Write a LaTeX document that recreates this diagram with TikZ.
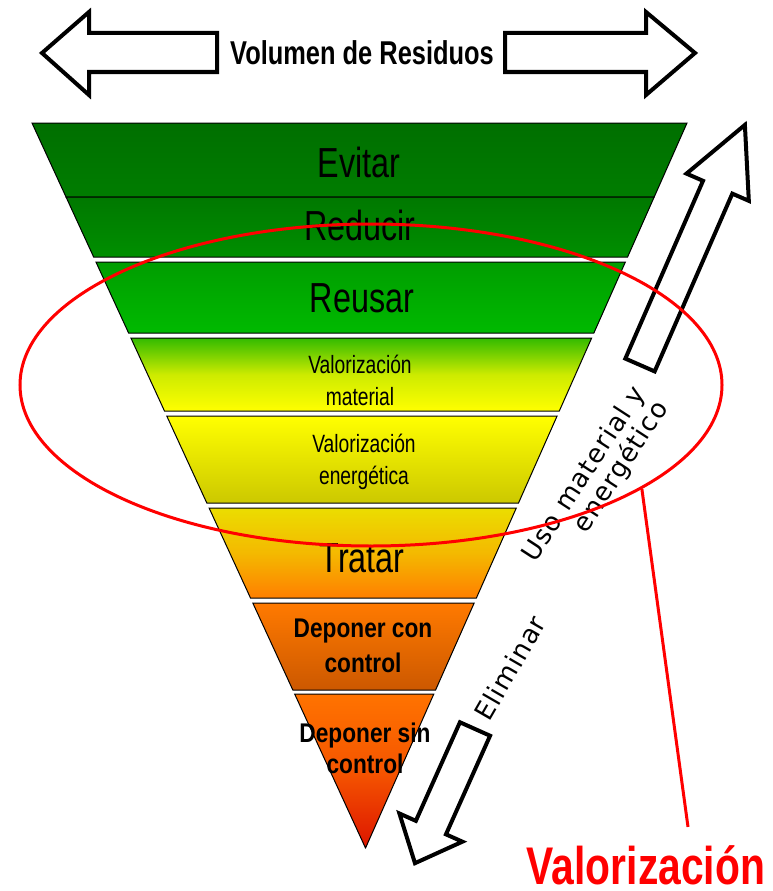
\documentclass[tikz,border=0pt]{standalone}
\usepackage{fontspec}
\setmainfont{Liberation Sans}
\newfontfamily\narrowfont[FakeStretch=0.77]{Liberation Sans}
\newfontfamily\depfont[FakeStretch=0.84]{Liberation Sans}
\newfontfamily\spacedfont[LetterSpace=5]{DejaVu Sans}
\usetikzlibrary{shapes.geometric, positioning}
\usepackage{xcolor}
\definecolor{ValRed}{RGB}{255,0,0}

% one level of the inverted pyramid: top y, bottom y, shading
\newcommand{\band}[3]{%
  \pgfmathsetmacro\bandla{32+0.46*(#1-123)}%
  \pgfmathsetmacro\bandra{687-0.4434*(#1-123)}%
  \pgfmathsetmacro\bandlb{32+0.46*(#2-123)}%
  \pgfmathsetmacro\bandrb{687-0.4434*(#2-123)}%
  \shadedraw[level, #3] (\bandla,#1) -- (\bandra,#1) -- (\bandrb,#2) -- (\bandlb,#2) -- cycle;}

\begin{document}
\begin{tikzpicture}[x=1pt, y=-1pt,
    level/.style={draw=black, line width=1pt},
    hollow/.style={draw=black, fill=white, line width=4pt, line join=miter},
    lvltext/.style={font=\narrowfont\fontsize{42}{42}\selectfont, inner sep=0pt, anchor=base},
    valtext/.style={font=\narrowfont\fontsize{25}{32}\selectfont, inner sep=0pt, align=center},
    deptext/.style={font=\depfont\bfseries\fontsize{27}{35}\selectfont, inner sep=0pt, align=center},
    sidetext/.style={font=\spacedfont\fontsize{26}{24}\selectfont, inner sep=0pt},
    redline/.style={draw=ValRed, line width=3pt}
  ]
  \useasboundingbox (0,0) rectangle (773,891);

  % levels
  \band{123}{197}{top color={rgb,255:red,0;green,111;blue,0}, bottom color={rgb,255:red,0;green,125;blue,0}}
  \band{197}{257}{top color={rgb,255:red,0;green,120;blue,0}, bottom color={rgb,255:red,0;green,143;blue,0}}
  \band{262}{333}{top color={rgb,255:red,0;green,157;blue,0}, bottom color={rgb,255:red,0;green,186;blue,0}}
  \band{338}{411}{top color={rgb,255:red,51;green,187;blue,0}, bottom color={rgb,255:red,255;green,255;blue,0}, middle color={rgb,255:red,205;green,235;blue,0}}
  \band{416}{503}{top color={rgb,255:red,255;green,255;blue,0}, bottom color={rgb,255:red,204;green,200;blue,0}}
  \band{508}{598}{top color={rgb,255:red,235;green,221;blue,0}, bottom color={rgb,255:red,255;green,127;blue,0}, middle color={rgb,255:red,244;green,185;blue,0}}
  \band{603}{690}{top color={rgb,255:red,255;green,122;blue,0}, bottom color={rgb,255:red,204;green,88;blue,0}}
  \band{694}{848}{top color={rgb,255:red,255;green,115;blue,0}, bottom color={rgb,255:red,221;green,21;blue,0}, middle color={rgb,255:red,245;green,85;blue,0}}

  \node[lvltext] (evitar) at (359,177) {Evitar};
  \node[lvltext] (reducir) at (360,240) {Reducir};
  \node[lvltext] (reusar) at (362,312) {Reusar};
  \node[valtext] (valmat) at (360,380) {Valorización\\material};
  \node[valtext] (valene) at (364,462) {Valorización\\energética};
  \node[lvltext] (tratar) at (362,572) {Tratar};
  \node[deptext] (depcon) at (363,646) {Deponer con\\control};
  \node[deptext, font=\depfont\bfseries\fontsize{27}{31}\selectfont] (depsin) at (365,748) {Deponer sin\\control};

  % volume arrows
  \node[font=\narrowfont\bfseries\fontsize{33}{33}\selectfont, inner sep=0pt, anchor=base] (volumen) at (362,65) {Volumen de Residuos};
  \draw[hollow] (42,53) -- (89,12) -- (89,33) -- (217,33) -- (217,72) -- (89,72) -- (89,95) -- cycle;
  \draw[hollow] (695,53) -- (646,12) -- (646,33) -- (505,33) -- (505,72) -- (646,72) -- (646,95) -- cycle;

  % side arrows
  \begin{scope}[shift={(640,365)}, rotate=66.4]
    \draw[hollow] (0,-16) -- (194,-16) -- (194,-34) -- (262,0) -- (194,34) -- (194,16) -- (0,16) -- cycle;
  \end{scope}
  \begin{scope}[shift={(475,729)}, rotate=245.9]
    \draw[hollow] (0,-16.5) -- (108,-16.5) -- (108,-34.5) -- (147,0) -- (108,34.5) -- (108,16.5) -- (0,16.5) -- cycle;
  \end{scope}
  \node[sidetext, rotate=57, align=right] (uso) at (596,482) {Uso material y\\energético};
  \node[sidetext, rotate=60] (eliminar) at (510,668) {Eliminar};

  % valorizacion
  \node[draw=ValRed, line width=3pt, ellipse, minimum width=702pt, minimum height=322pt, inner sep=0pt] (vz) at (371,385) {};
  \node[font=\narrowfont\bfseries\fontsize{53}{53}\selectfont, text=ValRed, inner sep=0pt, anchor=base] (vlabel) at (646,884) {Valorización};
  \draw[redline] (vz.-21) -- ([xshift=42pt, yshift=18pt]vlabel.north);
\end{tikzpicture}
\end{document}
